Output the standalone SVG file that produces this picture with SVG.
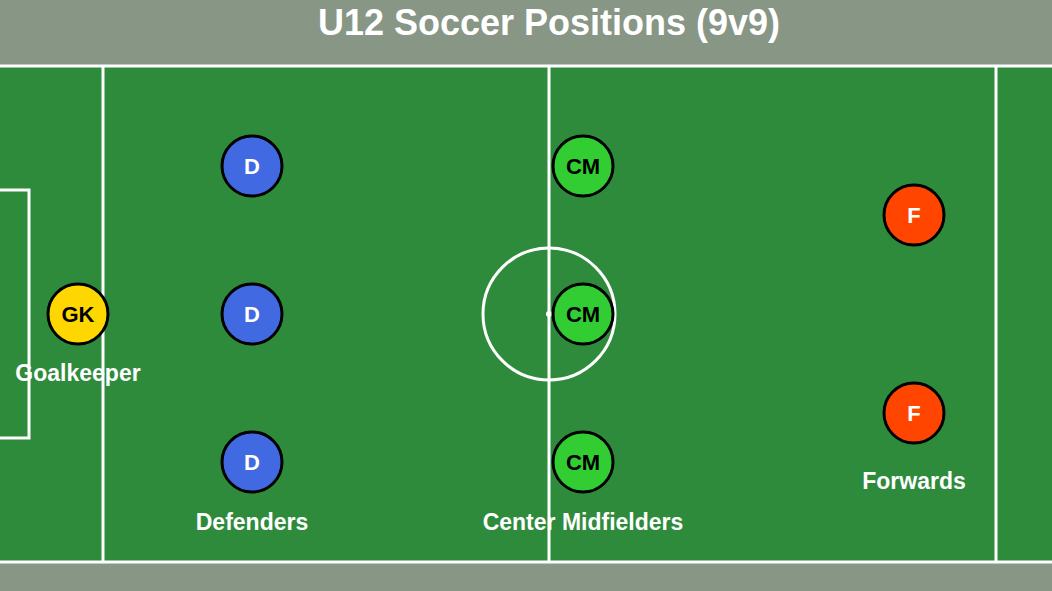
<svg xmlns="http://www.w3.org/2000/svg" width="1052" height="591" viewBox="0 0 1052 591">
<style>
.line{fill:none;stroke:#ffffff;stroke-width:3}
.pl{stroke:#000;stroke-width:3}
.lt{font-family:"Liberation Sans",Arial,sans-serif;font-weight:bold;font-size:22px;text-anchor:middle}
.lbl{font-family:"Liberation Sans",Arial,sans-serif;font-weight:bold;font-size:23px;fill:#fff;text-anchor:middle}
</style>
<rect x="0" y="0" width="1052" height="591" fill="#889686"/>
<text x="549" y="35" fill="#fff" font-family="Liberation Sans, Arial, sans-serif" font-weight="bold" font-size="36" text-anchor="middle">U12 Soccer Positions (9v9)</text>
<g id="field">
<rect x="-10" y="66" width="1072" height="496" fill="#2e8b3c"/>
<rect x="-10" y="66" width="1072" height="496" class="line"/>
<line x1="103" y1="66" x2="103" y2="562" class="line"/>
<line x1="549" y1="66" x2="549" y2="562" class="line"/>
<line x1="996" y1="66" x2="996" y2="562" class="line"/>
<rect x="-10" y="190" width="39" height="248" class="line"/>
<circle cx="549" cy="314" r="66" class="line"/>
<circle cx="549" cy="314" r="3" fill="#fff"/>
</g>
<g id="connectors"/>
<g id="gk">
<circle cx="78" cy="314" r="30" fill="#ffd700" class="pl"/>
<text x="78" y="322" class="lt" fill="#000">GK</text>
<text x="78" y="381" class="lbl">Goalkeeper</text>
</g>
<g id="d1"><circle cx="252" cy="166" r="30" fill="#4169e1" class="pl"/><text x="252" y="174" class="lt" fill="#fff">D</text></g>
<g id="d2"><circle cx="252" cy="314" r="30" fill="#4169e1" class="pl"/><text x="252" y="322" class="lt" fill="#fff">D</text></g>
<g id="d3"><circle cx="252" cy="462" r="30" fill="#4169e1" class="pl"/><text x="252" y="470" class="lt" fill="#fff">D</text></g>
<text x="252" y="530" class="lbl">Defenders</text>
<g id="cm1"><circle cx="583" cy="166" r="30" fill="#32cd32" class="pl"/><text x="583" y="174" class="lt" fill="#000">CM</text></g>
<g id="cm2"><circle cx="583" cy="314" r="30" fill="#32cd32" class="pl"/><text x="583" y="322" class="lt" fill="#000">CM</text></g>
<g id="cm3"><circle cx="583" cy="462" r="30" fill="#32cd32" class="pl"/><text x="583" y="470" class="lt" fill="#000">CM</text></g>
<text x="583" y="530" class="lbl">Center Midfielders</text>
<g id="f1"><circle cx="914" cy="215" r="30" fill="#ff4500" class="pl"/><text x="914" y="223" class="lt" fill="#fff">F</text></g>
<g id="f2"><circle cx="914" cy="413" r="30" fill="#ff4500" class="pl"/><text x="914" y="421" class="lt" fill="#fff">F</text></g>
<text x="914" y="489" class="lbl">Forwards</text>
</svg>
